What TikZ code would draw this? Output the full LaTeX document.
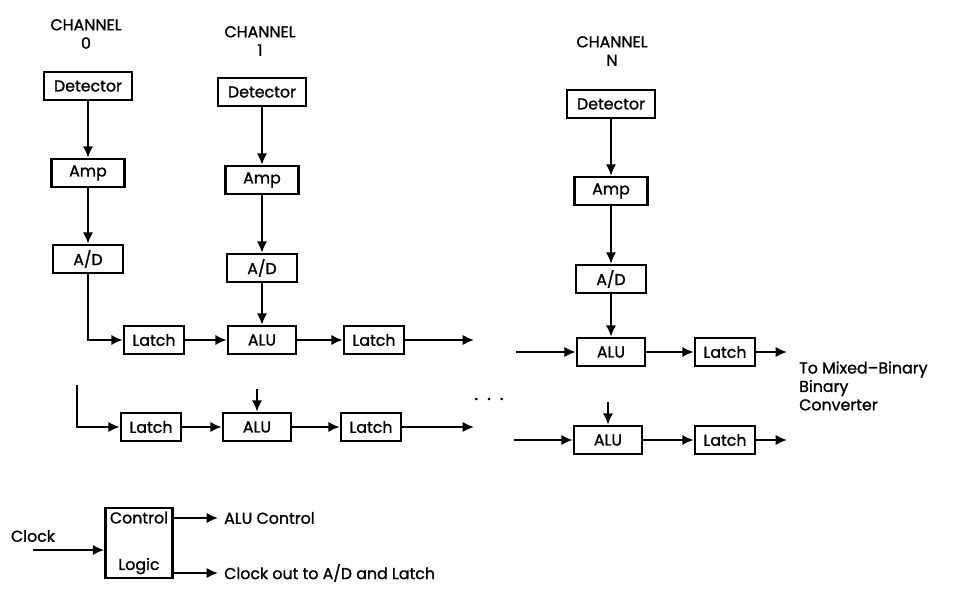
\documentclass[tikz,border=0pt]{standalone}
\usepackage{fontspec}
\setmainfont{Poppins}[FakeBold=1.2]
\usetikzlibrary{arrows.meta}

\tikzset{
	blk/.style={draw, line width=1.5pt, inner sep=1pt, minimum height=0.56cm},
	det/.style={blk, minimum width=1.76cm},
	amp/.style={blk, minimum width=1.46cm},
	adc/.style={blk, minimum width=1.4cm},
	latch/.style={blk, minimum width=1.2cm},
	alu/.style={blk, minimum width=1.36cm},
	wire/.style={->, line width=1.3pt},
}

\begin{document}
\begin{tikzpicture}[x=0.02cm, y=-0.02cm, >={Latex[length=6.5pt,width=6pt]},
		font=\fontsize{9}{10.5}\selectfont]
		\useasboundingbox (0,0) rectangle (953,594);
		% channel headings
		\node[align=center] (ch0) at (86,34) {CHANNEL\\0};
		\node[align=center] (ch1) at (260,41) {CHANNEL\\1};
		\node[align=center] (chN) at (612,51) {CHANNEL\\N};
		% channel 0
		\node[det] (det0) at (88,86) {Detector};
		\node[amp] (amp0) at (88,173) {Amp};
		\node[adc] (ad0) at (88,259) {A/D};
		% channel 1
		\node[det] (det1) at (262,92) {Detector};
		\node[amp] (amp1) at (262,180) {Amp};
		\node[adc] (ad1) at (262,268) {A/D};
		% channel N
		\node[det] (detN) at (611,104) {Detector};
		\node[amp] (ampN) at (611,191) {Amp};
		\node[adc] (adN) at (611,279) {A/D};
		% first row
		\node[latch] (lat01) at (154,340) {Latch};
		\node[alu] (alu11) at (262,340) {ALU};
		\node[latch] (lat11) at (374,340) {Latch};
		\coordinate (end11) at (474,340);
		\coordinate (begN1) at (516,352);
		\node[alu] (aluN1) at (611,352) {ALU};
		\node[latch] (latN1) at (725,352) {Latch};
		\coordinate (endN1) at (787,352);
		% second row
		\coordinate (beg02) at (77,385);
		\node[latch] (lat02) at (151,427) {Latch};
		\node[alu] (alu12) at (257,427) {ALU};
		\node[latch] (lat12) at (371,427) {Latch};
		\coordinate (end12) at (474,427);
		\coordinate (top12) at (257,389);
		\node (dots) at (489,400) {\scalebox{0.6}{\textbullet}\hspace{5pt}\scalebox{0.6}{\textbullet}\hspace{5pt}\scalebox{0.6}{\textbullet}};
		\coordinate (begN2) at (514,440);
		\node[alu] (aluN2) at (608,440) {ALU};
		\node[latch] (latN2) at (725,440) {Latch};
		\coordinate (endN2) at (787,440);
		\coordinate (topN2) at (608,402);
		\node[align=left, anchor=west] (conv) at (793,386) {To Mixed--Binary\\Binary\\Converter};
		% control logic
		\node[blk, minimum width=1.34cm, minimum height=1.4cm, align=center] (ctrl) at (139,543) {Control\\[16pt]Logic};
		\node (clk) at (33,536) {Clock};
		\coordinate (clkin) at (33,550);
		\node[anchor=west] (aluctl) at (218,518) {ALU Control};
		\node[anchor=west] (clkout) at (218,573) {Clock out to A/D and Latch};

		\draw[wire] (det0) -- (amp0);
		\draw[wire] (amp0) -- (ad0);
		\draw[wire] (det1) -- (amp1);
		\draw[wire] (amp1) -- (ad1);
		\draw[wire] (detN) -- (ampN);
		\draw[wire] (ampN) -- (adN);

		\draw[wire] (ad0.south) |- (lat01.west);
		\draw[wire] (lat01) -- (alu11);
		\draw[wire] (ad1) -- (alu11);
		\draw[wire] (alu11) -- (lat11);
		\draw[wire] (lat11) -- (end11);
		\draw[wire] (begN1) -- (aluN1);
		\draw[wire] (adN) -- (aluN1);
		\draw[wire] (aluN1) -- (latN1);
		\draw[wire] (latN1) -- (endN1);

		\draw[wire] (beg02) |- (lat02.west);
		\draw[wire] (lat02) -- (alu12);
		\draw[wire] (top12) -- (alu12);
		\draw[wire] (alu12) -- (lat12);
		\draw[wire] (lat12) -- (end12);
		\draw[wire] (begN2) -- (aluN2);
		\draw[wire] (topN2) -- (aluN2);
		\draw[wire] (aluN2) -- (latN2);
		\draw[wire] (latN2) -- (endN2);

		\draw[wire] (clkin) -- (clkin -| ctrl.west);
		\draw[wire] (aluctl.west -| ctrl.east) -- (aluctl.west);
		\draw[wire] (clkout.west -| ctrl.east) -- (clkout.west);
	\end{tikzpicture}
\end{document}
